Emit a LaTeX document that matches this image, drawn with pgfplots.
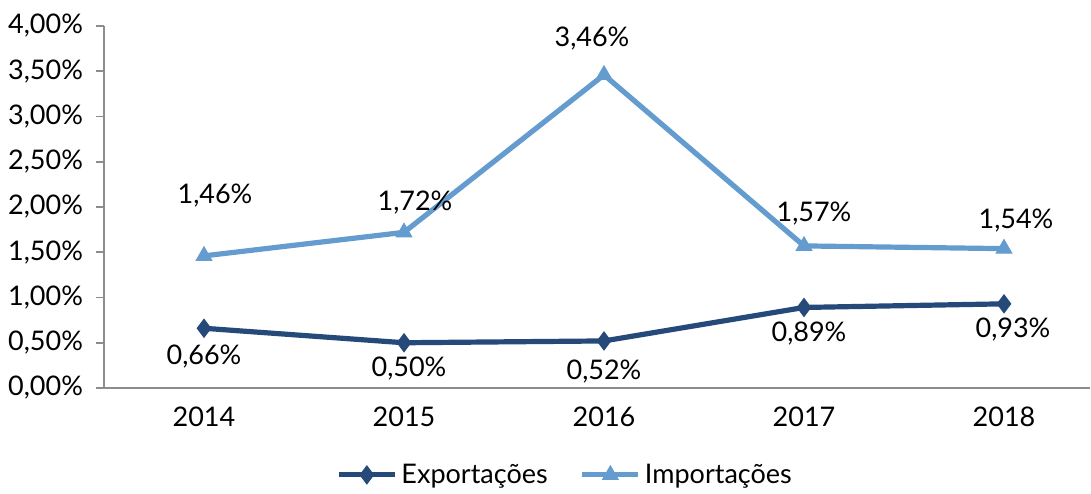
\documentclass[border=0pt]{standalone}
\usepackage{pgfplots}
\usepackage{pgfplotstable}
\pgfplotsset{compat=1.18}
\usepackage{fontspec}
\setmainfont{Lato}

\definecolor{exp}{HTML}{254A7A}
\definecolor{imp}{HTML}{659CCF}
\definecolor{axisgray}{HTML}{8C8C8C}

% x, value, label shift (pt)
\pgfplotstableread{
x y lx ly
0 0.66 0   -14
1 0.50 2.5 -13
2 0.52 0   -15.5
3 0.89 2.5 -13
4 0.93 4.5 -13
}\exportacoes
\pgfplotstableread{
x y lx ly
0 1.46 5.5 30
1 1.72 5.5 15
2 3.46 -6  18
3 1.57 5   16
4 1.54 6   14
}\importacoes

\begin{document}
\begin{tikzpicture}
\begin{axis}[
    scale only axis,
    width=493pt, height=181pt,
    xmin=-0.5, xmax=4.43,
    ymin=0, ymax=4,
    xtick={0,1,2,3,4},
    xticklabels={2014,2015,2016,2017,2018},
    ytick={0,0.5,...,4},
    yticklabel={\pgfmathprintnumber[fixed,fixed zerofill,precision=2,use comma]{\tick}\%},
    /pgf/number format/assume math mode=true,
    axis x line*=bottom, axis y line*=left,
    axis line style={axisgray, line width=0.8pt, -},
    x tick style={draw=none},
    y tick style={axisgray, line width=0.8pt},
    ytick align=outside, tick pos=left,
    major tick length=4pt,
    tick label style={font=\fontsize{13.5}{16}\selectfont, black},
    xticklabel style={yshift=-6pt},
    yticklabel style={xshift=-3pt},
    legend style={at={(0.4686,-0.24)}, anchor=center, draw=none,
        legend columns=-1, font=\fontsize{13.5}{16}\selectfont,
        /tikz/every even column/.append style={column sep=14pt}},
    legend image code/.code={%
        \draw[#1, mark repeat=2, mark phase=2] plot coordinates {(0pt,0pt) (14pt,0pt) (28pt,0pt)};},
    nodes near coords={\pgfmathprintnumber[fixed,fixed zerofill,precision=2,use comma]{\pgfplotspointmeta}\%},
    visualization depends on={\thisrow{lx} \as \lx},
    visualization depends on={\thisrow{ly} \as \ly},
    every node near coord/.append style={anchor=center, xshift=\lx pt, yshift=\ly pt,
        font=\fontsize{13.5}{16}\selectfont, black},
    clip=false,
]
\addplot[exp, line width=2.6pt, mark=diamond*, mark size=4.5pt,
    mark options={solid, line width=0.5pt}] table[x=x, y=y] {\exportacoes};
\addlegendentry{Exportações}
\addplot[imp, line width=2.6pt, mark=triangle*, mark size=4.5pt,
    mark options={solid, line width=0.5pt}] table[x=x, y=y] {\importacoes};
\addlegendentry{Importações}
\end{axis}
\pgfresetboundingbox
\path (current axis.south west) ++(-52pt,-52.5pt) rectangle ++(545.5pt,246.5pt);
\end{tikzpicture}
\end{document}
